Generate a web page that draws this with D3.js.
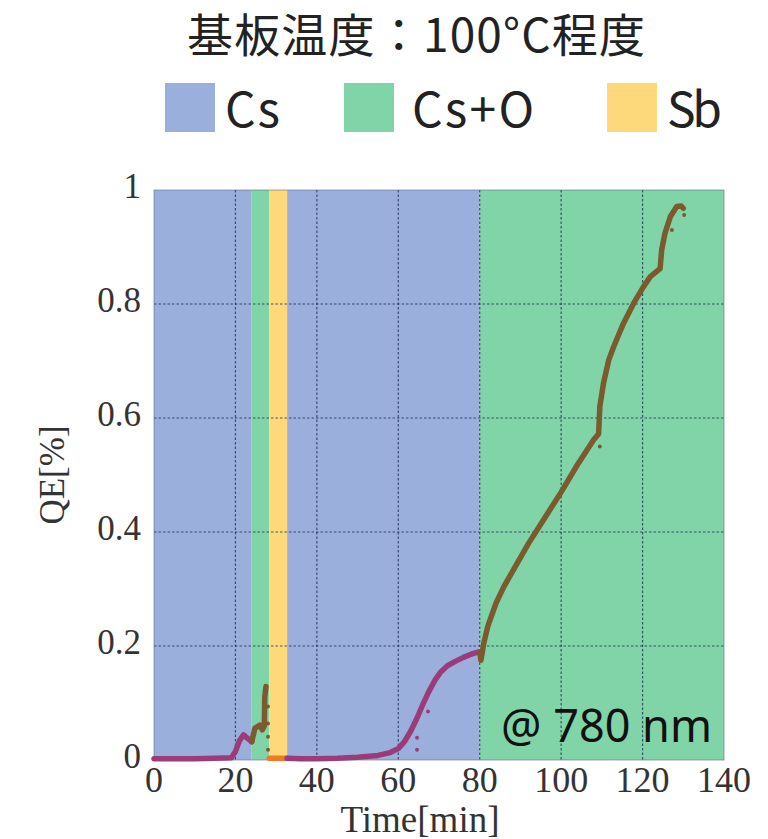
<!DOCTYPE html>
<html>
<head>
<meta charset="utf-8">
<script src="https://cdn.jsdelivr.net/npm/d3@7"></script>
<style>
  body { margin: 0; background: #fff; }
  svg { display: block; }
</style>
</head>
<body>
<svg id="chart" width="768" height="839"></svg>
<script>
// phases of the deposition (min)
var phaseNames = ["Cs", "Cs+O", "Sb", "Cs", "Cs+O"];
var phaseStart = [0, 24, 28.3, 32.7, 80];
var phaseEnd = [24, 28.3, 32.7, 80, 140];

var legendNames = ["Cs", "Cs+O", "Sb"];
var legendColors = ["#9bafdc", "#80d4a7", "#fdd97c"];

var xTicks = [0, 20, 40, 60, 80, 100, 120, 140];
var yTicks = [0, 0.2, 0.4, 0.6, 0.8, 1];
var yTickLabels = ["0", "0.2", "0.4", "0.6", "0.8", "1"];

// QE trace, one array per phase
var cs1Time = [0, 5, 10, 15, 19, 20, 21, 22, 23, 24];
var cs1QE = [0.002, 0.002, 0.002, 0.003, 0.004, 0.015, 0.034, 0.044, 0.038, 0.032];

var cso1Time = [24, 24.8, 26.0, 26.6, 27.1, 27.2, 27.5];
var cso1QE = [0.032, 0.056, 0.061, 0.053, 0.06, 0.11, 0.129];

var sbTime = [28.3, 30, 32.7];
var sbQE = [0.003, 0.003, 0.003];

var cs2Time = [32.7, 36, 40, 45, 50, 55, 58, 60, 61.5, 63, 64.5, 66, 67.5, 69, 70.5, 72, 74, 76, 78, 80];
var cs2QE = [0.003, 0.002, 0.002, 0.003, 0.005, 0.008, 0.013, 0.02, 0.032, 0.05, 0.072, 0.097, 0.12, 0.14, 0.155, 0.165, 0.173, 0.18, 0.186, 0.19];

var cso2Time = [80, 80.3, 81, 82, 84, 86, 88, 92, 96, 100, 104, 108, 109.2, 109.5, 110.4, 111.7, 112.9, 115.3, 117.8, 120.2, 121.9, 124.3, 124.7, 125.5, 126.8, 128.4, 129.5, 130];
var cso2QE = [0.19, 0.175, 0.205, 0.235, 0.275, 0.305, 0.33, 0.38, 0.425, 0.47, 0.518, 0.562, 0.572, 0.62, 0.661, 0.702, 0.725, 0.766, 0.801, 0.83, 0.848, 0.862, 0.895, 0.924, 0.953, 0.971, 0.972, 0.968];

// stray measurement points
var strayTime = [28.0, 28.0, 28.0, 28.0, 64.6, 64.6, 67.3, 109.5, 127.2, 130.2];
var strayQE = [0.094, 0.064, 0.041, 0.018, 0.039, 0.018, 0.085, 0.55, 0.93, 0.956];
var strayPhase = ["Cs+O", "Cs+O", "Cs+O", "Cs+O", "Cs", "Cs", "Cs", "Cs+O", "Cs+O", "Cs+O"];

var traceColor = { "Cs": "#9b3c7a", "Cs+O": "#7a5a2e", "Sb": "#f07a22" };

var svg = d3.select("#chart");
var plotL = 154, plotR = 724, plotT = 190, plotB = 760;

var x = d3.scaleLinear().domain([0, 140]).range([plotL, plotR]);
var y = d3.scaleLinear().domain([0, 1]).range([plotB, plotT]);
var fill = d3.scaleOrdinal().domain(legendNames).range(legendColors);

// title
svg.append("text")
   .attr("x", 416).attr("y", 52)
   .attr("text-anchor", "middle")
   .style("font-family", "'Noto Sans CJK JP', 'Noto Sans'")
   .style("font-size", "46px")
   .attr("textLength", 458)
   .attr("fill", "#222")
   .text("基板温度：100°C程度");

// legend
var legendX = [165, 344, 607];
var legendTextX = [60, 68, 60];
var legendTextW = [55, 122, 55];
var lg = svg.append("g").selectAll("g")
    .data(legendNames)
    .enter().append("g")
    .attr("transform", function(d, i) { return "translate(" + legendX[i] + ",83)"; });
lg.append("rect")
  .attr("width", 50).attr("height", 49)
  .attr("fill", function(d) { return fill(d); });
lg.append("text")
  .attr("x", function(d, i) { return legendTextX[i]; }).attr("y", 44)
  .attr("textLength", function(d, i) { return legendTextW[i]; })
  .style("font-family", "'Noto Sans CJK JP', 'Noto Sans'")
  .style("font-size", "48px")
  .attr("fill", "#222")
  .text(function(d) { return d; });

// phase backgrounds
svg.append("g").selectAll("rect")
   .data(phaseNames)
   .enter().append("rect")
   .attr("x", function(d, i) { return x(phaseStart[i]); })
   .attr("width", function(d, i) { return x(phaseEnd[i]) - x(phaseStart[i]); })
   .attr("y", plotT)
   .attr("height", plotB - plotT)
   .attr("fill", function(d) { return fill(d); });

// grid
var grid = svg.append("g")
    .attr("stroke", "#1a2850")
    .attr("stroke-opacity", 0.75)
    .attr("stroke-dasharray", "2.5,2")
    .attr("stroke-width", 1.2);
grid.selectAll("line.gx")
    .data(xTicks.slice(1, -1))
    .enter().append("line")
    .attr("x1", function(d) { return x(d); }).attr("x2", function(d) { return x(d); })
    .attr("y1", plotT).attr("y2", plotB);
grid.selectAll("line.gy")
    .data(yTicks.slice(1, -1))
    .enter().append("line")
    .attr("y1", function(d) { return y(d); }).attr("y2", function(d) { return y(d); })
    .attr("x1", plotL).attr("x2", plotR);

// frame
svg.append("rect")
   .attr("x", plotL).attr("y", plotT)
   .attr("width", plotR - plotL).attr("height", plotB - plotT)
   .attr("fill", "none")
   .attr("stroke", "#5a6a8a")
   .attr("stroke-opacity", 0.6);

// trace
var segments = [
    { phase: "Cs", t: cs1Time, q: cs1QE },
    { phase: "Cs+O", t: cso1Time, q: cso1QE },
    { phase: "Sb", t: sbTime, q: sbQE },
    { phase: "Cs", t: cs2Time, q: cs2QE },
    { phase: "Cs+O", t: cso2Time, q: cso2QE }
];
var line = d3.line()
    .x(function(d) { return x(d[0]); })
    .y(function(d) { return y(d[1]); });
svg.append("g").selectAll("path")
   .data(segments)
   .enter().append("path")
   .attr("d", function(s) { return line(d3.zip(s.t, s.q)); })
   .attr("fill", "none")
   .attr("stroke", function(s) { return traceColor[s.phase]; })
   .attr("stroke-width", 5.5)
   .attr("stroke-linejoin", "round")
   .attr("stroke-linecap", "round");

svg.append("g").selectAll("circle")
   .data(d3.range(strayTime.length))
   .enter().append("circle")
   .attr("cx", function(i) { return x(strayTime[i]); })
   .attr("cy", function(i) { return y(strayQE[i]); })
   .attr("r", 2)
   .attr("fill", function(i) { return traceColor[strayPhase[i]]; });

// annotation
svg.append("text")
   .attr("x", 712).attr("y", 742)
   .attr("text-anchor", "end")
   .style("font-family", "'Noto Sans', 'DejaVu Sans'")
   .style("font-size", "45px")
   .attr("fill", "#111")
   .text("@ 780 nm");

// axes labels
var serif = "'Liberation Serif', 'Times New Roman', serif";
svg.append("g").selectAll("text")
   .data(xTicks)
   .enter().append("text")
   .attr("x", function(d) { return x(d); })
   .attr("y", 792)
   .attr("text-anchor", "middle")
   .style("font-family", serif)
   .style("font-size", "36px")
   .attr("fill", "#333")
   .text(function(d) { return d; });

svg.append("g").selectAll("text")
   .data(yTicks)
   .enter().append("text")
   .attr("x", 141)
   .attr("y", function(d) { return y(d) + 8; })
   .attr("text-anchor", "end")
   .style("font-family", serif)
   .style("font-size", "35px")
   .attr("fill", "#333")
   .text(function(d, i) { return yTickLabels[i]; });

svg.append("text")
   .attr("x", 420).attr("y", 832)
   .attr("text-anchor", "middle")
   .style("font-family", serif)
   .style("font-size", "37px")
   .attr("fill", "#333")
   .text("Time[min]");

svg.append("text")
   .attr("transform", "translate(64,475) rotate(-90)")
   .attr("text-anchor", "middle")
   .style("font-family", serif)
   .style("font-size", "35px")
   .attr("fill", "#333")
   .text("QE[%]");
</script>
</body>
</html>
